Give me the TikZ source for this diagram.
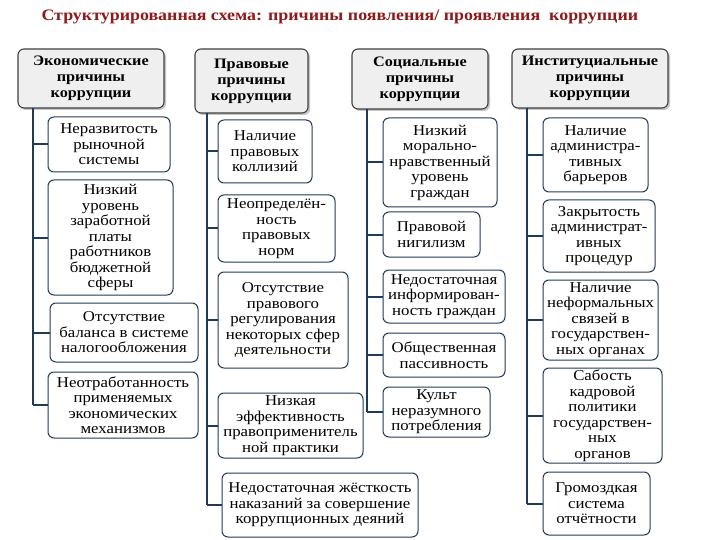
\documentclass[tikz,border=0pt]{standalone}
\usepackage{fontspec}
\setmainfont[FakeStretch=1.12]{Liberation Serif}
\usetikzlibrary{shadows}
\definecolor{navy}{HTML}{1F3B57}
\definecolor{titlered}{HTML}{8E1B1B}
\definecolor{hdrfill}{HTML}{EFEFEF}
\begin{document}
\begin{tikzpicture}[x=1pt,y=-1pt,
  hdr/.style={draw=black!75, line width=1.1pt, fill=hdrfill, rounded corners=6pt,
    align=center, inner sep=0pt, font=\fontsize{14.5}{16}\selectfont\bfseries,
    drop shadow={shadow xshift=2pt, shadow yshift=-2pt, opacity=0.45}},
  itm/.style={draw=navy, line width=1pt, fill=white, rounded corners=6pt,
    align=center, inner sep=0pt, font=\fontsize{15}{15.5}\selectfont},
  spine/.style={draw=navy, line width=2.2pt},
  branch/.style={draw=navy, line width=2pt}]
\useasboundingbox (0,0) rectangle (720,540);
\fill[white] (0,0) rectangle (720,540);

\node[anchor=west, text=titlered, font=\fontsize{16}{18}\selectfont\bfseries] (title) at (38,17)
  {Структурированная схема: причины появления/ проявления \ коррупции};

% headers
\node[hdr, minimum width=146, minimum height=59] (h1) at (91,78.5) {Экономические\\причины\\коррупции};
\node[hdr, minimum width=113, minimum height=64] (h2) at (251.5,81) {Правовые\\причины\\коррупции};
\node[hdr, minimum width=136, minimum height=60] (h3) at (420,79) {Социальные\\причины\\коррупции};
\node[hdr, minimum width=156, minimum height=59] (h4) at (590,78.5) {Институциальные\\причины\\коррупции};

% column 1
\node[itm, minimum width=122, minimum height=55] (b11) at (109,144.5) {Неразвитость\\рыночной\\системы};
\node[itm, minimum width=125, minimum height=115] (b12) at (110.5,237.5) {Низкий\\уровень\\заработной\\платы\\работников\\бюджетной\\сферы};
\node[itm, minimum width=148, minimum height=59] (b13) at (124,332.5) {Отсутствие\\баланса в системе\\налогообложения};
\node[itm, minimum width=150, minimum height=66] (b14) at (123,405) {Неотработанность\\применяемых\\экономических\\механизмов};

% column 2
\node[itm, minimum width=94, minimum height=63] (b21) at (265,151.5) {Наличие\\правовых\\коллизий};
\node[itm, minimum width=117, minimum height=67] (b22) at (276.5,228.5) {Неопределён-\\ность\\правовых\\норм};
\node[itm, minimum width=130, minimum height=96] (b23) at (283,320) {Отсутствие\\правового\\регулирования\\некоторых сфер\\деятельности};
\node[itm, minimum width=145, minimum height=65] (b24) at (290.5,425.5) {Низкая\\эффективность\\правоприменитель\\ной практики};
\node[itm, minimum width=196, minimum height=64] (b25) at (320,505) {Недостаточная жёсткость\\наказаний за совершение\\коррупционных деяний};

% column 3
\node[itm, minimum width=114, minimum height=89] (b31) at (440,162.5) {Низкий\\морально-\\нравственный\\уровень\\граждан};
\node[itm, minimum width=97, minimum height=45] (b32) at (431.5,234.5) {Правовой\\нигилизм};
\node[itm, minimum width=122, minimum height=53] (b33) at (444,296.5) {Недостаточная\\информирован-\\ность граждан};
\node[itm, minimum width=122, minimum height=44] (b34) at (444,355) {Общественная\\пассивность};
\node[itm, minimum width=107, minimum height=50] (b35) at (436.5,412) {Культ\\неразумного\\потребления};

% column 4
\node[itm, minimum width=105, minimum height=74] (b41) at (595.5,155) {Наличие\\администра-\\тивных\\барьеров};
\node[itm, minimum width=112, minimum height=72] (b42) at (599,236) {Закрытость\\администрат-\\ивных\\процедур};
\node[itm, minimum width=115, minimum height=80] (b43) at (600.5,320) {Наличие\\неформальных\\связей в\\государствен-\\ных органах};
\node[itm, minimum width=119, minimum height=95] (b44) at (602.5,415.5) {Сабость\\кадровой\\политики\\государствен-\\ных\\органов};
\node[itm, minimum width=107, minimum height=63] (b45) at (596.5,503.5) {Громоздкая\\система\\отчётности};

% spines
\coordinate (s1) at (33,108);
\coordinate (s2) at (207,113);
\coordinate (s3) at (367,109);
\coordinate (s4) at (527,108);

\draw[spine] (s1) -- (s1 |- b14.west);
\foreach \b in {b11,b12,b13,b14} \draw[branch] (s1 |- \b.west) -- (\b.west);
\draw[spine] (s2) -- (s2 |- b25.west);
\foreach \b in {b21,b22,b23,b24,b25} \draw[branch] (s2 |- \b.west) -- (\b.west);
\draw[spine] (s3) -- (s3 |- b35.west);
\foreach \b in {b31,b32,b33,b34,b35} \draw[branch] (s3 |- \b.west) -- (\b.west);
\draw[spine] (s4) -- (s4 |- b45.west);
\foreach \b in {b41,b42,b43,b44,b45} \draw[branch] (s4 |- \b.west) -- (\b.west);
\end{tikzpicture}
\end{document}
